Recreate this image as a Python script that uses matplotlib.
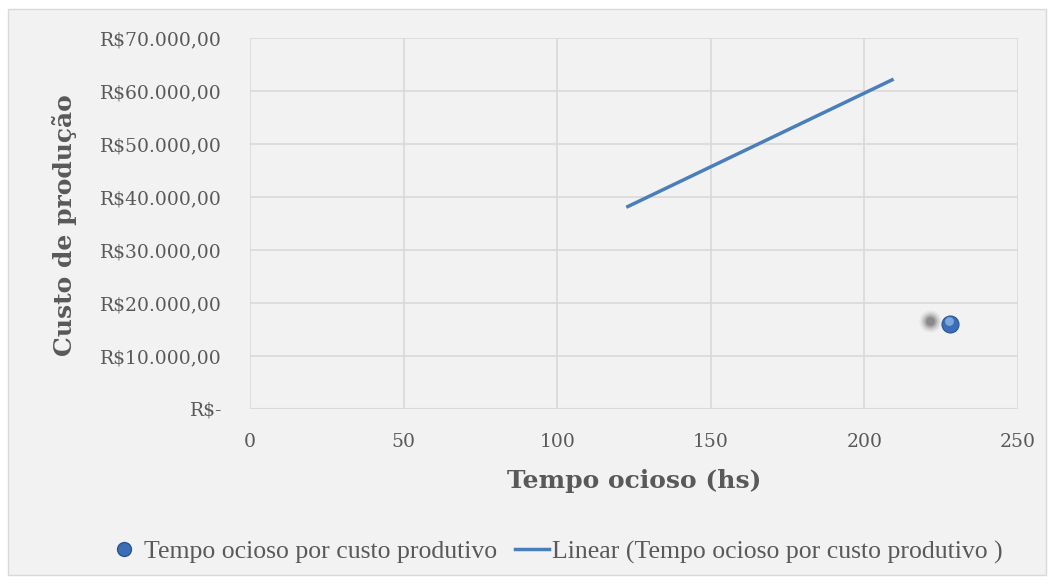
import matplotlib
matplotlib.use("Agg")
import matplotlib.pyplot as plt
from matplotlib.patches import Rectangle
from matplotlib.lines import Line2D
from matplotlib.ticker import FuncFormatter

# data
tempo = [228]
custo = [16000]
trend_x = [123, 209]
trend_y = [38200, 62100]
x_ticks = [0, 50, 100, 150, 200, 250]
y_ticks = [0, 10000, 20000, 30000, 40000, 50000, 60000, 70000]
serie = "Tempo ocioso por custo produtivo"
serie_trend = "Linear (Tempo ocioso por custo produtivo )"

plt.rcParams['font.family'] = ['DejaVu Serif']
bg = "#F2F2F2"
txt = "#595959"

fig = plt.figure(figsize=(10.54, 5.84), dpi=100, facecolor="white")
fig.patches.append(Rectangle((8 / 1054, 9 / 584), 1038 / 1054, 566 / 584,
                             transform=fig.transFigure, facecolor=bg,
                             edgecolor="#D9D9D9", lw=1, zorder=-10))
ax = fig.add_axes([250 / 1054, 1 - 409 / 584, 768 / 1054, 371 / 584])
ax.set_facecolor(bg)


def brl(v, pos):
    if v == 0:
        return "R$-"
    s = f"{v:,.2f}".replace(",", "X").replace(".", ",").replace("X", ".")
    return "R$" + s


ax.set_xlim(0, 250)
ax.set_ylim(0, 70000)
ax.set_xticks(x_ticks)
ax.set_yticks(y_ticks)
ax.yaxis.set_major_formatter(FuncFormatter(brl))
ax.grid(True, color="#D9D9D9", lw=1.2)
ax.set_axisbelow(True)
for s in ax.spines.values():
    s.set_visible(False)
ax.tick_params(length=0, labelsize=13.5, colors=txt)
ax.tick_params(axis="y", pad=20)
ax.tick_params(axis="x", pad=17)
ax.axhline(0, color="#D9D9D9", lw=1.5, zorder=1)

# trendline
ax.plot(trend_x, trend_y, color="#4A7EBB", lw=2.5, zorder=3)

# shadow behind the point
for s, a in [(260, 0.05), (190, 0.08), (130, 0.12), (80, 0.18), (40, 0.25)]:
    ax.scatter([t - 6.8 for t in tempo], [c + 600 for c in custo], s=s,
               color="#303030", alpha=a, lw=0, zorder=4)
# the point (sphere look)
ax.scatter(tempo, custo, s=150, color="#3A6FB8", edgecolor="#2A5590",
           lw=0.8, zorder=5)
ax.scatter([t - 0.6 for t in tempo], [c + 550 for c in custo], s=40,
           color="#8DB4E6", lw=0, alpha=0.8, zorder=6)

ax.set_xlabel("Tempo ocioso (hs)", fontsize=18, fontweight="bold",
              color=txt)
ax.set_ylabel("Custo de produção", fontsize=18, fontweight="bold",
              color=txt)
ax.xaxis.set_label_coords(0.5, -(481 - 409) / 371, transform=ax.transAxes)
ax.yaxis.set_label_coords(-(250 - 65) / 768, 0.5 + (409 - 225 - 185.5) / 371)
ax.xaxis.label.set_va("center")
ax.yaxis.label.set_va("center")

h1 = Line2D([], [], ls="none", marker="o", markersize=10,
            markerfacecolor="#3A6FB8", markeredgecolor="#2A5590")
h2 = Line2D([], [], color="#4A7EBB", lw=2.5)
fig.legend([h1, h2], [serie, serie_trend], loc="center",
           bbox_to_anchor=(555 / 1054, 1 - 552 / 584), ncol=2,
           frameon=False, labelcolor=txt,
           prop={"family": "Liberation Serif", "size": 18.5},
           handlelength=1.3, columnspacing=0.7, handletextpad=0.15)

fig.savefig("out.png", dpi=100, facecolor="white")
